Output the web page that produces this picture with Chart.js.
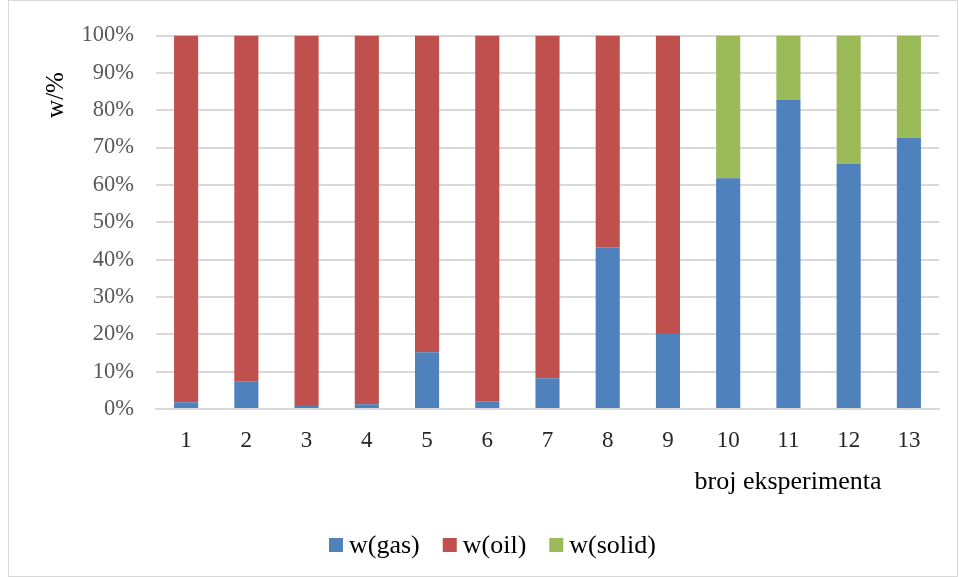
<!DOCTYPE html>
<html>
<head>
<meta charset="utf-8">
<script src="https://cdn.jsdelivr.net/npm/chart.js@4"></script>
<style>
  html, body { margin: 0; padding: 0; background: #fff; }
  #wrap { width: 959px; height: 577px; position: relative; }
</style>
</head>
<body>
<div id="wrap"><canvas id="grafica"></canvas></div>
<script>
const categories = ['1','2','3','4','5','6','7','8','9','10','11','12','13'];
const gas   = [1.8, 7.3, 0.8, 1.3, 15.2, 2.1, 8.2, 43.3, 20.1, 61.8, 82.8, 65.6, 72.6];
const oil   = [98.2, 92.7, 99.2, 98.7, 84.8, 97.9, 91.8, 56.7, 79.9, 0, 0, 0, 0];
const solid = [0, 0, 0, 0, 0, 0, 0, 0, 0, 38.2, 17.2, 34.4, 27.4];
const yTicks = [0,10,20,30,40,50,60,70,80,90,100];

const serif = "'Liberation Serif', 'Times New Roman', serif";

// titles, legend and frame drawn by hand to match the original placement
const extras = {
  id: 'extras',
  afterDraw(chart) {
    const ctx = chart.ctx;
    ctx.save();
    ctx.strokeStyle = '#d9d9d9';
    ctx.lineWidth = 1;
    ctx.strokeRect(8.5, 0.5, 949, 576);

    ctx.fillStyle = '#000';
    ctx.font = '26px ' + serif;
    ctx.textAlign = 'center';
    ctx.textBaseline = 'alphabetic';
    ctx.fillText('broj eksperimenta', 788, 489);

    // legend
    ctx.textAlign = 'left';
    ctx.textBaseline = 'middle';
    let x = 329;
    const y = 545;
    chart.data.datasets.forEach(ds => {
      ctx.fillStyle = ds.backgroundColor;
      ctx.fillRect(x, y - 7, 14, 14);
      x += 20;
      ctx.fillStyle = '#000';
      ctx.fillText(ds.label, x, y + 1);
      x += ctx.measureText(ds.label).width + 23;
    });

    ctx.font = '25px ' + serif;
    ctx.textAlign = 'center';
    ctx.translate(56, 95);
    ctx.rotate(-Math.PI / 2);
    ctx.fillText('w/%', 0, 0);
    ctx.restore();
  }
};

const graph = document.getElementById('grafica');
const myChart = new Chart(graph, {
  type: 'bar',
  data: {
    labels: categories,
    datasets: [
      { label: 'w(gas)', data: gas, backgroundColor: '#4F81BD' },
      { label: 'w(oil)', data: oil, backgroundColor: '#C0504D' },
      { label: 'w(solid)', data: solid, backgroundColor: '#9BBB59' },
    ],
  },
  options: {
    responsive: true,
    maintainAspectRatio: false,
    animation: false,
    datasets: { bar: { barPercentage: 0.8, categoryPercentage: 0.5 } },
    layout: { padding: { top: 33, right: 20, bottom: 0, left: 0 } },
    plugins: {
      tooltip: { enabled: false },
      legend: { display: false },
    },
    scales: {
      x: {
        stacked: true,
        grid: { display: false },
        border: { display: true, color: '#d9d9d9', width: 2 },
        ticks: { color: '#262626', font: { family: serif, size: 23 }, padding: 10 },
        afterFit: s => { s.height = 168; },
      },
      y: {
        stacked: true,
        min: 0,
        max: 100,
        afterBuildTicks: s => { s.ticks = yTicks.map(v => ({ value: v })); },
        grid: { color: '#d9d9d9', lineWidth: 2, drawTicks: false },
        border: { display: false },
        ticks: {
          color: '#595959',
          font: { family: serif, size: 22.5 },
          padding: 22,
          callback: v => v + '%',
        },
        afterFit: s => { s.width = 156; },
      },
    },
  },
  plugins: [extras],
});
</script>
</body>
</html>
